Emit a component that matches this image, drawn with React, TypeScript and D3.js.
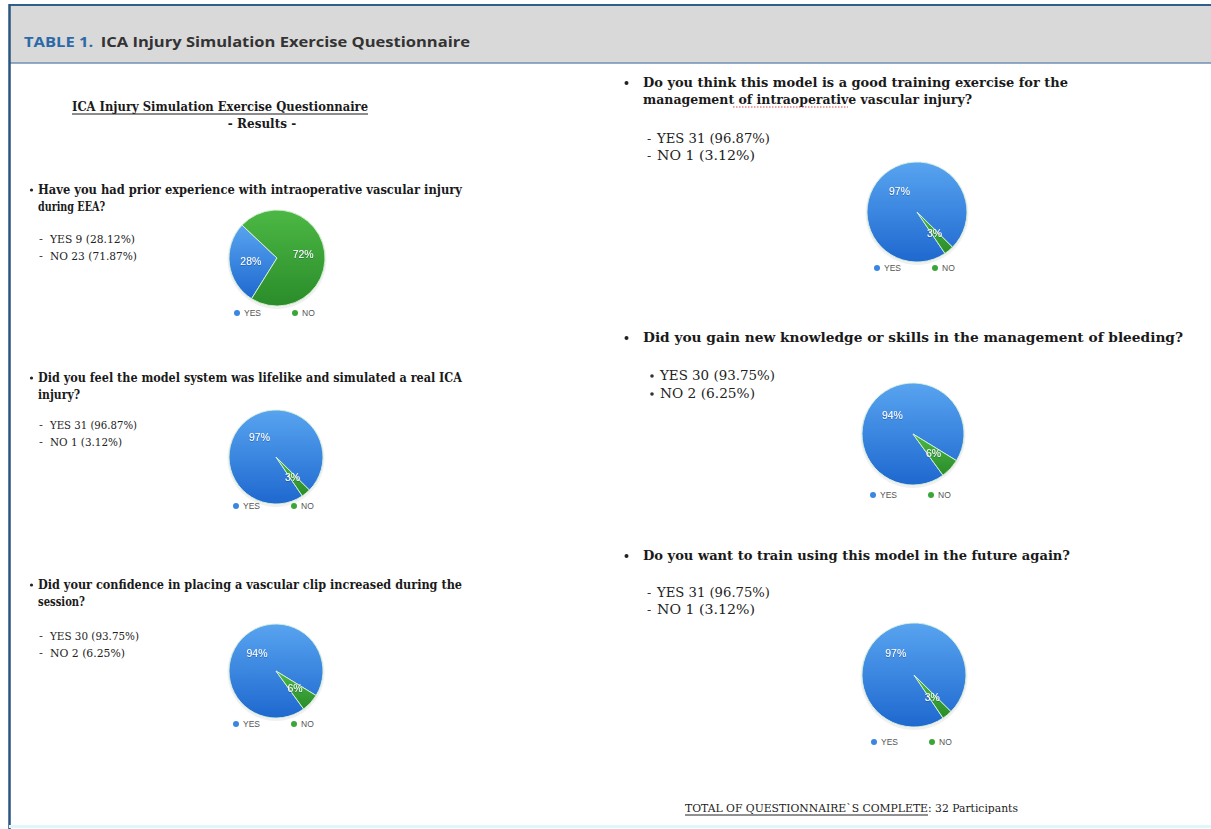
import React from "react";
import * as d3 from "d3";

// ---------- data ----------
const questionLines: string[][] = [
  ["Have you had prior experience with intraoperative vascular injury", "during EEA?"],
  ["Did you feel the model system was lifelike and simulated a real ICA", "injury?"],
  ["Did your confidence in placing a vascular clip increased during the", "session?"],
  ["Do you think this model is a good training exercise for the", "management of intraoperative vascular injury?"],
  ["Did you gain new knowledge or skills in the management of bleeding?"],
  ["Do you want to train using this model in the future again?"],
];
const yesText = ["YES 9 (28.12%)", "YES 31 (96.87%)", "YES 30 (93.75%)", "YES 31 (96.87%)", "YES 30 (93.75%)", "YES 31 (96.75%)"];
const noText = ["NO 23 (71.87%)", "NO 1 (3.12%)", "NO 2 (6.25%)", "NO 1 (3.12%)", "NO 2 (6.25%)", "NO 1 (3.12%)"];
const yesCounts = [9, 31, 30, 31, 30, 31];
const noCounts = [23, 1, 2, 1, 2, 1];
const categories = ["YES", "NO"];
const answerMarker = ["-", "-", "-", "-", "•", "-"];

// ---------- layout (positions only) ----------
type L = {
  qx: number; bx: number; qy: number[]; qw: number[]; qsize: number;
  ax: number; mx: number; ay: number[]; aw: number[]; asize: number;
  cx: number; cy: number; r: number; ly: number; start: number;
};
const layout: L[] = [
  { qx: 38, bx: 29, qy: [194, 211], qw: [424, 67], qsize: 12, ax: 50, mx: 39, ay: [243, 260], aw: [85, 87], asize: 11.5, cx: 277, cy: 258, r: 48, ly: 313, start: 212 },
  { qx: 38, bx: 29, qy: [382, 399], qw: [424, 42], qsize: 12, ax: 50, mx: 39, ay: [429, 446], aw: [87, 72], asize: 11.5, cx: 276, cy: 457, r: 47, ly: 506, start: 146 },
  { qx: 38, bx: 29, qy: [589, 606], qw: [424, 47], qsize: 12, ax: 50, mx: 39, ay: [640, 657], aw: [89, 75], asize: 11.5, cx: 276, cy: 671, r: 47, ly: 724, start: 144 },
  { qx: 643, bx: 624, qy: [87, 104], qw: [425, 329], qsize: 13, ax: 657, mx: 647, ay: [143, 160], aw: [113, 98], asize: 12.5, cx: 917, cy: 212, r: 50, ly: 268, start: 146 },
  { qx: 643, bx: 624, qy: [342], qw: [540], qsize: 13, ax: 660, mx: 650, ay: [380, 398], aw: [115, 95], asize: 12.5, cx: 913, cy: 434, r: 51, ly: 495, start: 144 },
  { qx: 643, bx: 624, qy: [560], qw: [427], qsize: 13, ax: 657, mx: 647, ay: [597, 614], aw: [113, 98], asize: 12.5, cx: 914, cy: 675, r: 52, ly: 742, start: 146 },
];

const serif = "'DejaVu Serif', Georgia, serif";
const sans = "'Liberation Sans', Arial, sans-serif";
const BLUE_TOP = "#58a4f0";
const BLUE_BOT = "#1e68cf";
const GREEN_TOP = "#4cb844";
const GREEN_BOT = "#2a8c2a";

function Pie({ i }: { i: number }) {
  const L = layout[i];
  const vals = [yesCounts[i], noCounts[i]];
  const total = d3.sum(vals);
  const toRad = (deg: number) => (deg * Math.PI) / 180;
  const pie = d3
    .pie<number>()
    .sort(null)
    .value((d) => d)
    .startAngle(toRad(L.start))
    .endAngle(toRad(L.start + 360));
  const arcs = pie(vals);
  const arc = d3.arc<d3.PieArcDatum<number>>().innerRadius(0).outerRadius(L.r);
  const labelArc = d3
    .arc<d3.PieArcDatum<number>>()
    .innerRadius(L.r * 0.55)
    .outerRadius(L.r * 0.55);
  const legendX = d3.scaleOrdinal<string, number>().domain(categories).range([-40, 18]);
  const fills = [`url(#gBlue${i})`, `url(#gGreen${i})`];
  return (
    <g>
      <defs>
        <linearGradient id={`gBlue${i}`} x1="0" y1="0" x2="0" y2="1">
          <stop offset="0" stopColor={BLUE_TOP} />
          <stop offset="1" stopColor={BLUE_BOT} />
        </linearGradient>
        <linearGradient id={`gGreen${i}`} x1="0" y1="0" x2="0" y2="1">
          <stop offset="0" stopColor={GREEN_TOP} />
          <stop offset="1" stopColor={GREEN_BOT} />
        </linearGradient>
        <filter id={`lblShadow${i}`} x="-20%" y="-20%" width="140%" height="140%">
          <feDropShadow dx="0" dy="0.6" stdDeviation="0.5" floodColor="#0b3a7a" floodOpacity="0.7" />
        </filter>
      </defs>
      <g transform={`translate(${L.cx},${L.cy})`}>
        <circle r={L.r + 1.5} fill="#000" opacity={0.06} cy={1.5} />
        {arcs.map((a, k) => (
          <path key={k} d={arc(a) || ""} fill={fills[k]} stroke="#d8f3d8" strokeWidth={0.9} strokeLinejoin="round" />
        ))}
        {arcs.map((a, k) => {
          const [x, y] = labelArc.centroid(a);
          return (
            <text
              key={"l" + k}
              x={x}
              y={y}
              dy="0.35em"
              textAnchor="middle"
              fontFamily={sans}
              fontSize={10.5}
              fill="#ffffff"
              filter={`url(#lblShadow${i})`}
            >
              {Math.round((a.data / total) * 100) + "%"}
            </text>
          );
        })}
      </g>
      {categories.map((c, k) => (
        <g key={c} transform={`translate(${L.cx + legendX(c)},${L.ly})`}>
          <circle r={3} fill={k === 0 ? "#3b86e0" : "#3aa63a"} />
          <text x={7} dy="0.35em" fontFamily={sans} fontSize={8.5} fill="#555">
            {c}
          </text>
        </g>
      ))}
    </g>
  );
}

function Question({ i }: { i: number }) {
  const L = layout[i];
  return (
    <g fill="#1a1a1a">
      <circle cx={L.bx + 2.5} cy={L.qy[0] - 4} r={i < 3 ? 1.6 : 2} fill="#222" />
      {questionLines[i].map((line, k) => (
        <text
          key={k}
          x={L.qx}
          y={L.qy[k]}
          fontFamily={serif}
          fontSize={L.qsize}
          fontWeight="bold"
          textLength={L.qw[k]}
          lengthAdjust="spacingAndGlyphs"
        >
          {line}
        </text>
      ))}
      {[yesText[i], noText[i]].map((t, k) => (
        <g key={"a" + k}>
          {answerMarker[i] === "•" ? (
            <circle cx={L.mx + 2} cy={L.ay[k] - 4} r={1.8} fill="#333" />
          ) : (
            <text x={L.mx} y={L.ay[k]} fontFamily={serif} fontSize={L.asize} fill="#333">
              {answerMarker[i]}
            </text>
          )}
          <text
            x={L.ax}
            y={L.ay[k]}
            fontFamily={serif}
            fontSize={L.asize}
            fill="#222"
            textLength={L.aw[k]}
            lengthAdjust="spacingAndGlyphs"
          >
            {t}
          </text>
        </g>
      ))}
    </g>
  );
}

export default function App() {
  const W = 1211;
  const H = 829;
  return (
    <svg
      width={W}
      height={H}
      style={{ position: "absolute", left: 0, top: 0, background: "#fff" }}
    >
      {/* frame */}
      <rect x={0} y={0} width={W} height={H} fill="#fff" />
      <rect x={9} y={5} width={W - 9} height={58} fill="#d9d9d9" />
      <line x1={9} x2={W} y1={5} y2={5} stroke="#2f5f8a" strokeWidth={2} />
      <line x1={9} x2={W} y1={63} y2={63} stroke="#6f8fb0" strokeWidth={1.5} />
      <line x1={9.5} x2={9.5} y1={4} y2={H} stroke="#2a5580" strokeWidth={2.5} />
      <line x1={9} x2={W} y1={826.5} y2={826.5} stroke="#dff6fb" strokeWidth={3} />

      {/* header */}
      <text x={24} y={47} fontFamily="'Open Sans', sans-serif" fontWeight="bold" fontSize={15} fill="#333" textLength={446} lengthAdjust="spacingAndGlyphs">
        <tspan fill="#2b6aa8">TABLE 1.</tspan>
        <tspan dx={7}>ICA Injury Simulation Exercise Questionnaire</tspan>
      </text>

      {/* subtitle */}
      <text x={72} y={111} fontFamily={serif} fontWeight="bold" fontSize={13} fill="#1a1a1a" textLength={296} lengthAdjust="spacingAndGlyphs">
        ICA Injury Simulation Exercise Questionnaire
      </text>
      <line x1={72} x2={368} y1={114} y2={114} stroke="#1a1a1a" strokeWidth={1} />
      <text x={262} y={128} textAnchor="middle" fontFamily={serif} fontWeight="bold" fontSize={12} fill="#1a1a1a">
        - Results -
      </text>

      {layout.map((_, i) => (
        <Question key={"q" + i} i={i} />
      ))}
      {/* spell-check squiggle under 'intraoperative' */}
      <line x1={733} x2={848} y1={107} y2={107} stroke="#e04040" strokeWidth={1} strokeDasharray="1.5 1.5" />

      {layout.map((_, i) => (
        <Pie key={"p" + i} i={i} />
      ))}

      {/* total */}
      <text x={685} y={812} fontFamily={serif} fontSize={11.5} fill="#222" textLength={333} lengthAdjust="spacingAndGlyphs">
        TOTAL OF QUESTIONNAIRE`S COMPLETE: 32 Participants
      </text>
      <line x1={685} x2={928} y1={815} y2={815} stroke="#222" strokeWidth={1} />
    </svg>
  );
}
